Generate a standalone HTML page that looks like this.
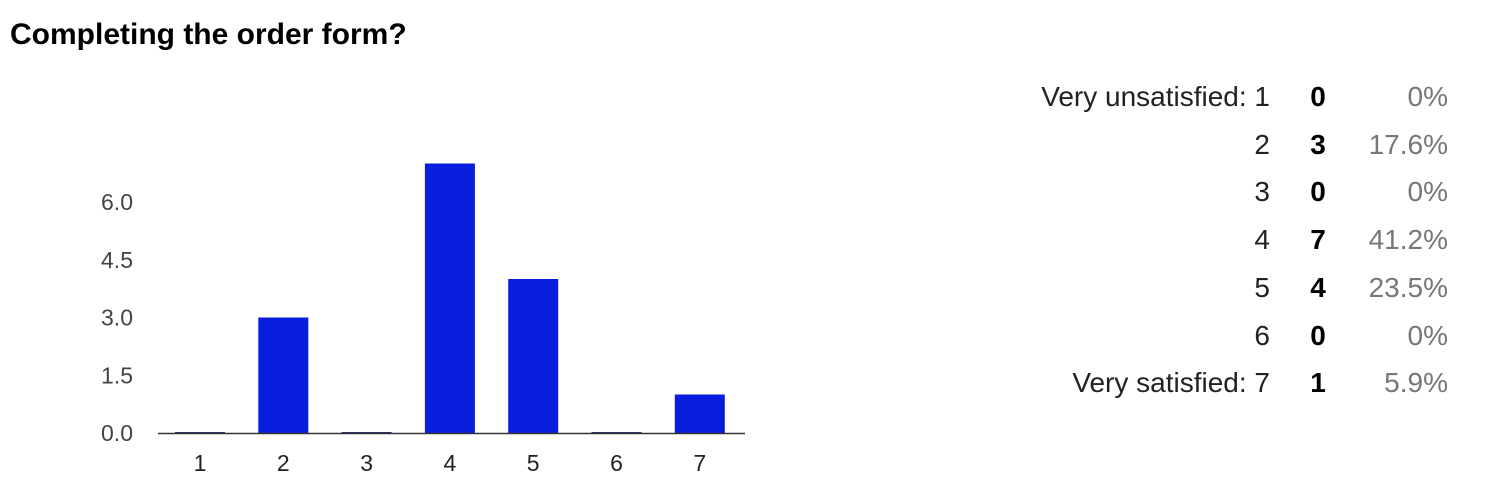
<!DOCTYPE html>
<html><head><meta charset="utf-8"><style>
body{margin:0;width:1510px;height:502px;background:#fff;font-family:"Liberation Sans",Arial,sans-serif;position:relative;overflow:hidden}
#title{position:absolute;left:10px;top:18px;font-size:30px;font-weight:bold;color:#000}
#tbl{position:absolute;left:0;top:0;width:1510px;height:502px}
.r{position:absolute;font-size:28px;white-space:nowrap}
</style></head><body>
<div id="title">Completing the order form?</div>
<svg id="chart" width="1510" height="502" style="position:absolute;left:0;top:0"></svg>
<div id="tbl"></div>
<script>
const categories=["1","2","3","4","5","6","7"];
const counts=[0,3,0,7,4,0,1];
const yTicks=[0,1.5,3,4.5,6];
const yTickLabels=["0.0","1.5","3.0","4.5","6.0"];
const rowLabels=["Very unsatisfied: 1","2","3","4","5","6","Very satisfied: 7"];
const percents=["0%","17.6%","0%","41.2%","23.5%","0%","5.9%"];

const NS="http://www.w3.org/2000/svg";
const svg=document.getElementById('chart');
const y=v=>433-v*38.5;
const xc=i=>200+i*83.3;
function mk(t,a){const e=document.createElementNS(NS,t);for(const k in a)e.setAttribute(k,a[k]);svg.appendChild(e);return e;}
yTicks.forEach((v,i)=>{
  const t=mk('text',{x:133,y:y(v)+8,'text-anchor':'end','font-size':23,fill:'#444','font-family':'Liberation Sans, sans-serif'});
  t.textContent=yTickLabels[i];
  
  
});
categories.forEach((c,i)=>{
  const h=Math.max(counts[i]*38.5,1);
  const b=mk('rect',{x:xc(i)-25,y:433-h,width:50,height:h,fill:counts[i]?'#071fdc':'#223066'});
  
  
  const t=mk('text',{x:xc(i),y:471,'text-anchor':'middle','font-size':23,fill:'#222','font-family':'Liberation Sans, sans-serif'});
  t.textContent=c;
  
  
});
const ax=mk('line',{x1:158,x2:745,y1:433.5,y2:433.5,stroke:'#333','stroke-width':1.5});



const tbl=document.getElementById('tbl');
rowLabels.forEach((l,i)=>{
  const top=81+i*47.7;
  const a=document.createElement('div');a.className='r';a.textContent=l;
  a.style.cssText=`right:${1510-1270}px;top:${top}px;color:#222`;
  
  
  tbl.appendChild(a);
  const b=document.createElement('div');b.className='r';b.textContent=counts[i];
  b.style.cssText=`left:1300px;width:36px;text-align:center;top:${top}px;font-weight:bold;color:#000`;
  
  
  tbl.appendChild(b);
  const c=document.createElement('div');c.className='r';c.textContent=percents[i];
  c.style.cssText=`right:${1510-1448}px;top:${top}px;color:#777`;
  
  
  tbl.appendChild(c);
});
</script>
</body></html>
